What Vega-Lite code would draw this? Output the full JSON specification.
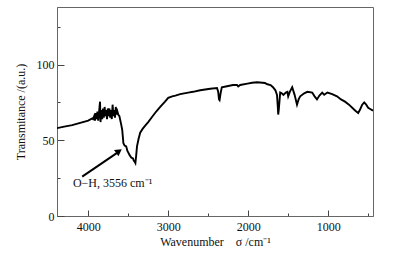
{
  "$schema": "https://vega.github.io/schema/vega-lite/v6.json",
  "width": 316,
  "height": 209,
  "autosize": {"type": "none"},
  "padding": {"left": 57, "top": 7, "right": 21, "bottom": 39},
  "background": "white",
  "config": {
    "view": {"stroke": "#666", "strokeWidth": 1},
    "font": "Liberation Serif",
    "axis": {
      "labelFont": "Liberation Serif",
      "titleFont": "Liberation Serif",
      "labelFontSize": 12,
      "titleFontSize": 12,
      "titleFontWeight": "normal",
      "labelColor": "#111",
      "titleColor": "#111",
      "domainColor": "#666",
      "tickColor": "#444",
      "grid": false
    }
  },
  "layer": [
    {
      "data": {"values": [
        {"w": 4390, "t": 58}, {"w": 4300, "t": 59}, {"w": 4200, "t": 60}, {"w": 4100, "t": 61.5},
        {"w": 4000, "t": 63}, {"w": 3950, "t": 64.5}, {"w": 3940, "t": 64}, {"w": 3925, "t": 66},
        {"w": 3915, "t": 63}, {"w": 3905, "t": 68}, {"w": 3895, "t": 64}, {"w": 3885, "t": 69},
        {"w": 3875, "t": 63}, {"w": 3862, "t": 70}, {"w": 3852, "t": 75.5}, {"w": 3846, "t": 62},
        {"w": 3835, "t": 70}, {"w": 3825, "t": 64}, {"w": 3815, "t": 71}, {"w": 3805, "t": 65},
        {"w": 3795, "t": 72}, {"w": 3785, "t": 66}, {"w": 3775, "t": 70}, {"w": 3765, "t": 64},
        {"w": 3755, "t": 71}, {"w": 3745, "t": 66}, {"w": 3735, "t": 71}, {"w": 3725, "t": 65},
        {"w": 3715, "t": 70}, {"w": 3705, "t": 64}, {"w": 3695, "t": 73.5}, {"w": 3685, "t": 66},
        {"w": 3675, "t": 70}, {"w": 3665, "t": 65}, {"w": 3655, "t": 72}, {"w": 3645, "t": 67},
        {"w": 3635, "t": 69}, {"w": 3625, "t": 67}, {"w": 3610, "t": 66}, {"w": 3590, "t": 61},
        {"w": 3575, "t": 57}, {"w": 3560, "t": 48}, {"w": 3545, "t": 46.5}, {"w": 3525, "t": 46},
        {"w": 3510, "t": 43}, {"w": 3500, "t": 42}, {"w": 3480, "t": 40}, {"w": 3460, "t": 38.5},
        {"w": 3440, "t": 38}, {"w": 3430, "t": 36.5}, {"w": 3420, "t": 36}, {"w": 3410, "t": 35},
        {"w": 3400, "t": 40}, {"w": 3390, "t": 46}, {"w": 3370, "t": 51}, {"w": 3350, "t": 55},
        {"w": 3320, "t": 57.5}, {"w": 3290, "t": 59.5}, {"w": 3250, "t": 62}, {"w": 3200, "t": 65.5},
        {"w": 3150, "t": 69}, {"w": 3100, "t": 72}, {"w": 3040, "t": 75.5}, {"w": 3000, "t": 78},
        {"w": 2950, "t": 79}, {"w": 2910, "t": 79.5}, {"w": 2850, "t": 80.5}, {"w": 2750, "t": 81.5},
        {"w": 2690, "t": 82}, {"w": 2600, "t": 83}, {"w": 2475, "t": 84}, {"w": 2390, "t": 84.5},
        {"w": 2375, "t": 82}, {"w": 2365, "t": 77}, {"w": 2358, "t": 76.5}, {"w": 2345, "t": 81},
        {"w": 2330, "t": 85}, {"w": 2280, "t": 85.5}, {"w": 2190, "t": 86.5}, {"w": 2140, "t": 86.5},
        {"w": 2125, "t": 85.5}, {"w": 2100, "t": 86.5}, {"w": 2010, "t": 87.4}, {"w": 1950, "t": 88},
        {"w": 1890, "t": 88.3}, {"w": 1820, "t": 88}, {"w": 1790, "t": 87.8}, {"w": 1760, "t": 87},
        {"w": 1720, "t": 86.5}, {"w": 1690, "t": 85}, {"w": 1660, "t": 83}, {"w": 1640, "t": 80},
        {"w": 1630, "t": 72}, {"w": 1625, "t": 67}, {"w": 1618, "t": 70}, {"w": 1600, "t": 81.5},
        {"w": 1580, "t": 81}, {"w": 1560, "t": 80}, {"w": 1530, "t": 81.5}, {"w": 1510, "t": 82},
        {"w": 1500, "t": 79}, {"w": 1480, "t": 82}, {"w": 1450, "t": 85}, {"w": 1420, "t": 80},
        {"w": 1390, "t": 73.5}, {"w": 1370, "t": 77}, {"w": 1350, "t": 79}, {"w": 1300, "t": 81},
        {"w": 1260, "t": 82}, {"w": 1200, "t": 81.5}, {"w": 1170, "t": 79}, {"w": 1140, "t": 77},
        {"w": 1110, "t": 79.5}, {"w": 1075, "t": 81.5}, {"w": 1050, "t": 80}, {"w": 1010, "t": 81.5},
        {"w": 950, "t": 80.5}, {"w": 890, "t": 79}, {"w": 840, "t": 77}, {"w": 790, "t": 75.5},
        {"w": 740, "t": 73.5}, {"w": 700, "t": 71.5}, {"w": 660, "t": 69.5}, {"w": 625, "t": 68},
        {"w": 600, "t": 70.5}, {"w": 575, "t": 73.5}, {"w": 550, "t": 75}, {"w": 525, "t": 73.5},
        {"w": 500, "t": 71.5}, {"w": 470, "t": 70.5}, {"w": 440, "t": 69.5}
      ]},
      "mark": {"type": "line", "color": "black", "strokeWidth": 1.9, "clip": true},
      "encoding": {
        "x": {
          "field": "w", "type": "quantitative",
          "scale": {"domain": [440, 4390], "reverse": true, "nice": false, "zero": false},
          "axis": {
            "title": "Wavenumber\u00a0\u00a0\u00a0\u00a0σ /cm⁻¹",
            "values": [4000, 3500, 3000, 2500, 2000, 1500, 1000, 500],
            "format": "d",
            "labelExpr": "datum.value % 1000 === 0 ? datum.label : ''",
            "tickSize": {"condition": {"test": "datum.value % 1000 === 0", "value": -6}, "value": -3},
            "labelPadding": 11,
            "titlePadding": 4
          }
        },
        "y": {
          "field": "t", "type": "quantitative",
          "scale": {"domain": [0, 138], "nice": false},
          "axis": {
            "title": "Transmitance /(a.u.)",
            "values": [0, 25, 50, 75, 100, 125],
            "labelExpr": "datum.value % 50 === 0 ? datum.label : ''",
            "tickSize": {"condition": {"test": "datum.value % 50 === 0", "value": -7}, "value": -3},
            "labelPadding": 10,
            "titlePadding": 9
          }
        }
      }
    },
    {
      "data": {"values": [{"x1": 4075, "y1": 26, "x2": 3625, "y2": 42.2}]},
      "mark": {"type": "rule", "color": "black", "strokeWidth": 2},
      "encoding": {
        "x": {"field": "x1", "type": "quantitative"},
        "y": {"field": "y1", "type": "quantitative"},
        "x2": {"field": "x2"},
        "y2": {"field": "y2"}
      }
    },
    {
      "data": {"values": [{"x": 3615, "y": 42.8}]},
      "mark": {"type": "point", "shape": "triangle-up", "filled": true, "color": "black", "opacity": 1, "size": 60, "angle": 55},
      "encoding": {
        "x": {"field": "x", "type": "quantitative"},
        "y": {"field": "y", "type": "quantitative"}
      }
    },
    {
      "data": {"values": [{"x": 4191, "y": 19.2, "label": "O−H, 3556 cm⁻¹"}]},
      "mark": {"type": "text", "align": "left", "baseline": "alphabetic", "font": "Liberation Serif", "fontSize": 12, "color": "#111"},
      "encoding": {
        "x": {"field": "x", "type": "quantitative"},
        "y": {"field": "y", "type": "quantitative"},
        "text": {"field": "label"}
      }
    }
  ]
}
